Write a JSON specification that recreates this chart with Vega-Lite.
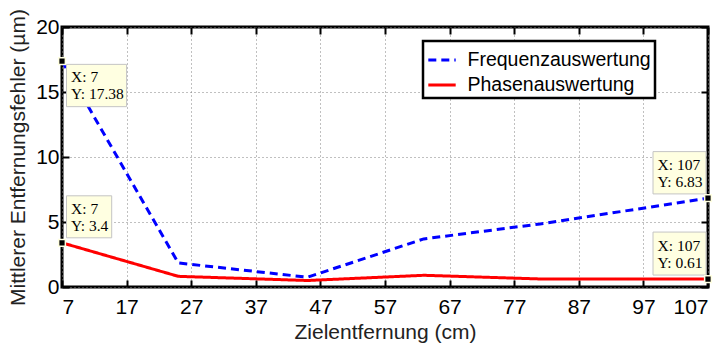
{
  "$schema": "https://vega.github.io/schema/vega-lite/v6.json",
  "autosize": {"type": "none"},
  "padding": {"left": 62, "top": 27, "right": 19, "bottom": 58},
  "width": 646,
  "height": 260,
  "background": "white",
  "config": {
    "font": "Liberation Sans",
    "view": {"stroke": "black", "strokeWidth": 3},
    "axis": {
      "labelFont": "Liberation Sans",
      "labelFontSize": 21,
      "labelColor": "black",
      "titleFont": "Liberation Sans",
      "titleFontSize": 21,
      "titleFontWeight": "normal",
      "titleColor": "#222222",
      "domain": false,
      "tickColor": "black",
      "tickWidth": 2,
      "gridColor": "#808080",
      "gridDash": [1, 3],
      "gridWidth": 1
    },
    "legend": {
      "orient": "none",
      "legendX": 361,
      "legendY": 14,
      "direction": "vertical",
      "fillColor": "white",
      "strokeColor": "black",
      "strokeWidth": 2.5,
      "padding": 3.5,
      "labelFont": "Liberation Sans",
      "labelFontSize": 19.5,
      "labelColor": "black",
      "labelLimit": 400,
      "symbolType": "stroke",
      "symbolStrokeWidth": 3,
      "symbolSize": 750,
      "rowPadding": 0,
      "labelOffset": 10,
      "cornerRadius": 0
    }
  },
  "datasets": {
    "main": [
      {"dist": 7, "err": 17.38, "series": "Frequenzauswertung"},
      {"dist": 25, "err": 1.85, "series": "Frequenzauswertung"},
      {"dist": 45, "err": 0.75, "series": "Frequenzauswertung"},
      {"dist": 63, "err": 3.7, "series": "Frequenzauswertung"},
      {"dist": 81, "err": 4.85, "series": "Frequenzauswertung"},
      {"dist": 107, "err": 6.83, "series": "Frequenzauswertung"},
      {"dist": 7, "err": 3.4, "series": "Phasenauswertung"},
      {"dist": 25, "err": 0.82, "series": "Phasenauswertung"},
      {"dist": 45, "err": 0.5, "series": "Phasenauswertung"},
      {"dist": 63, "err": 0.9, "series": "Phasenauswertung"},
      {"dist": 81, "err": 0.62, "series": "Phasenauswertung"},
      {"dist": 107, "err": 0.61, "series": "Phasenauswertung"}
    ],
    "tips": [
      {"tip": "a", "dist": 7, "err": 17.38, "label": "X: 7\nY: 17.38"},
      {"tip": "b", "dist": 7, "err": 3.4, "label": "X: 7\nY: 3.4"},
      {"tip": "c", "dist": 107, "err": 6.83, "label": "X: 107\nY: 6.83"},
      {"tip": "d", "dist": 107, "err": 0.61, "label": "X: 107\nY: 0.61"}
    ]
  },
  "layer": [
    {
      "data": {"name": "main"},
      "mark": {"type": "line", "strokeWidth": 3},
      "encoding": {
        "x": {
          "field": "dist", "type": "quantitative",
          "scale": {"domain": [7, 107], "nice": false, "zero": false},
          "axis": {
            "orient": "bottom",
            "values": [7, 17, 27, 37, 47, 57, 67, 77, 87, 97, 107],
            "title": "Zielentfernung (cm)",
            "grid": true,
            "tickSize": -7,
            "labelPadding": 16,
            "titlePadding": 4
          }
        },
        "y": {
          "field": "err", "type": "quantitative",
          "scale": {"domain": [0, 20], "nice": false},
          "axis": {
            "orient": "left",
            "values": [0, 5, 10, 15, 20],
            "title": "Mittlerer Entfernungsfehler (µm)",
            "grid": true,
            "tickSize": -7,
            "labelPadding": 10,
            "titlePadding": 7
          }
        },
        "color": {
          "field": "series", "type": "nominal",
          "scale": {"domain": ["Frequenzauswertung", "Phasenauswertung"], "range": ["#0000FF", "#FF0000"]},
          "legend": {"title": null}
        },
        "strokeDash": {
          "field": "series", "type": "nominal",
          "scale": {"domain": ["Frequenzauswertung", "Phasenauswertung"], "range": [[8, 5], [1, 0]]},
          "legend": {"title": null}
        }
      }
    },
    {
      "data": {"name": "tips"},
      "mark": {"type": "point", "filled": true, "fill": "#FFFFE1", "stroke": "#C4C4C4", "strokeWidth": 1, "size": 4, "opacity": 1},
      "encoding": {
        "x": {"field": "dist", "type": "quantitative", "axis": null},
        "y": {"field": "err", "type": "quantitative", "axis": null},
        "shape": {
          "field": "tip", "type": "nominal",
          "scale": {
            "domain": ["a", "b", "c", "d"],
            "range": [
              "M4.5,3.3H64.6V45.6H4.5Z",
              "M4.5,-47H49.7V-5H4.5Z",
              "M-55,-46.6H-2V-4.3H-55Z",
              "M-55,-47H-2V-4H-55Z"
            ]
          },
          "legend": null
        }
      }
    },
    {
      "data": {"name": "tips"},
      "transform": [{"filter": "datum.tip === 'a'"}],
      "mark": {"type": "text", "font": "Liberation Serif", "fontSize": 15.5, "align": "left", "baseline": "middle", "lineBreak": "\n", "lineHeight": 17, "dx": 9, "dy": 15.5, "color": "black"},
      "encoding": {
        "x": {"field": "dist", "type": "quantitative", "axis": null},
        "y": {"field": "err", "type": "quantitative", "axis": null},
        "text": {"field": "label"}
      }
    },
    {
      "data": {"name": "tips"},
      "transform": [{"filter": "datum.tip === 'b'"}],
      "mark": {"type": "text", "font": "Liberation Serif", "fontSize": 15.5, "align": "left", "baseline": "middle", "lineBreak": "\n", "lineHeight": 17, "dx": 9, "dy": -34, "color": "black"},
      "encoding": {
        "x": {"field": "dist", "type": "quantitative", "axis": null},
        "y": {"field": "err", "type": "quantitative", "axis": null},
        "text": {"field": "label"}
      }
    },
    {
      "data": {"name": "tips"},
      "transform": [{"filter": "datum.tip === 'c' || datum.tip === 'd'"}],
      "mark": {"type": "text", "font": "Liberation Serif", "fontSize": 15.5, "align": "left", "baseline": "middle", "lineBreak": "\n", "lineHeight": 17, "dx": -50.5, "dy": -33.5, "color": "black"},
      "encoding": {
        "x": {"field": "dist", "type": "quantitative", "axis": null},
        "y": {"field": "err", "type": "quantitative", "axis": null},
        "text": {"field": "label"}
      }
    },
    {
      "data": {"name": "tips"},
      "mark": {"type": "point", "shape": "square", "filled": true, "fill": "black", "stroke": "#FFFFE1", "strokeWidth": 1.5, "size": 45, "opacity": 1},
      "encoding": {
        "x": {
          "field": "dist", "type": "quantitative",
          "axis": {"orient": "top", "values": [7, 17, 27, 37, 47, 57, 67, 77, 87, 97, 107], "labels": false, "grid": false, "tickSize": -7, "title": null}
        },
        "y": {
          "field": "err", "type": "quantitative",
          "axis": {"orient": "right", "values": [0, 5, 10, 15, 20], "labels": false, "grid": false, "tickSize": -7, "title": null}
        }
      }
    }
  ],
  "resolve": {"axis": {"x": "independent", "y": "independent"}}
}
